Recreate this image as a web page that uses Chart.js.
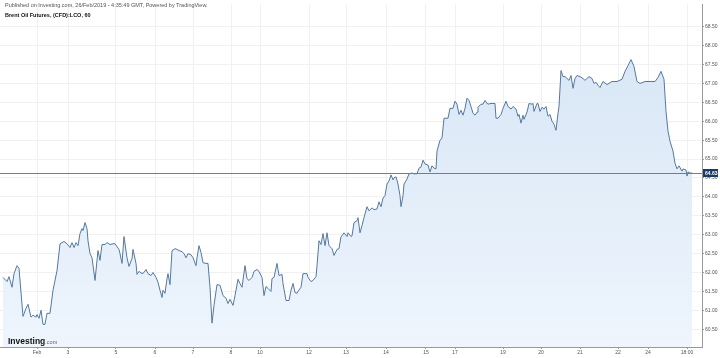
<!DOCTYPE html>
<html>
<head>
<meta charset="utf-8">
<script src="https://cdn.jsdelivr.net/npm/chart.js@4/dist/chart.umd.min.js"></script>
<style>
  html, body { margin: 0; padding: 0; background: #fff; }
  #wrap { position: relative; width: 720px; height: 358px; }
  .hdr { position: absolute; left: 5px; font-family: "Liberation Sans", Arial, sans-serif; font-size: 5.5px; white-space: nowrap; }
</style>
</head>
<body>
<div id="wrap">
  <canvas id="chart" width="720" height="358"></canvas>
  <div class="hdr" style="top:2px;color:#555;">Published on Investing.com, 26/Feb/2019 - 4:35:49 GMT, Powered by TradingView.</div>
  <div class="hdr" style="top:12px;color:#111;font-weight:bold;">Brent Oil Futures, (CFD):LCO, 60</div>
</div>
<script>
// time slots along the axis (one slot ~ a fraction of an hour) and LCO prices
const times = [3, 7, 9, 12, 14, 17, 19, 23, 26, 28, 31, 33, 36, 37, 39, 41, 43, 45, 47, 50,
  53, 57, 60, 64, 67, 70, 72, 74, 76, 78, 80, 82, 83, 85, 87, 88, 90, 92, 95, 98,
  100, 102, 105, 107, 110, 113, 115, 119, 120, 122, 124, 127, 129, 132, 133, 136, 137, 139, 142, 144,
  146, 148, 151, 153, 156, 158, 160, 162, 163, 165, 167, 168, 170, 172, 175, 177, 179, 182, 184, 186,
  188, 191, 193, 196, 197, 199, 201, 203, 206, 208, 210, 212, 214, 217, 220, 223, 226, 228, 230, 233,
  235, 238, 240, 242, 245, 247, 249, 252, 254, 257, 259, 262, 264, 266, 268, 271, 272, 274, 277, 279,
  282, 283, 286, 289, 291, 293, 295, 297, 298, 301, 303, 307, 308, 311, 313, 316, 317, 319, 321, 323,
  325, 327, 329, 332, 334, 337, 339, 341, 342, 344, 347, 348, 351, 352, 354, 357, 358, 360, 362, 364,
  367, 369, 372, 374, 377, 379, 381, 383, 385, 387, 389, 391, 393, 394, 396, 398, 400, 401, 403, 404,
  407, 409, 412, 414, 417, 419, 421, 423, 425, 428, 430, 432, 434, 436, 437, 440, 442, 444, 446, 448,
  450, 453, 455, 457, 459, 461, 463, 465, 467, 469, 471, 473, 475, 477, 478, 481, 483, 485, 487, 489,
  490, 493, 495, 496, 498, 501, 503, 506, 508, 511, 513, 516, 518, 519, 521, 523, 524, 527, 529, 532,
  533, 534, 537, 538, 540, 542, 544, 546, 548, 550, 552, 554, 556, 558, 559, 561, 563, 565, 567, 569,
  571, 573, 575, 577, 580, 583, 585, 587, 589, 592, 594, 596, 598, 600, 603, 607, 612, 617, 622, 625,
  628, 631, 634, 637, 640, 645, 650, 655, 658, 661, 664, 666, 668, 670, 673, 675, 677, 679, 682, 683,
  686, 687, 688, 690, 692];

const prices = [61.87, 61.76, 61.89, 61.61, 61.97, 62.18, 62.11, 60.84, 61.05, 61.16, 60.82, 60.87, 60.82, 60.89, 60.79, 61.00, 60.63, 60.63, 60.92, 60.92,
  61.53, 62.05, 62.76, 62.82, 62.76, 62.66, 62.79, 62.66, 62.79, 62.71, 63.03, 63.16, 63.11, 63.32, 63.16, 62.84, 62.50, 62.39, 61.79, 62.58,
  62.32, 62.74, 62.74, 62.79, 62.74, 62.76, 62.76, 62.61, 62.50, 62.24, 62.95, 62.39, 62.16, 62.37, 62.61, 62.24, 61.95, 62.03, 61.97, 62.00,
  62.08, 61.97, 61.92, 62.00, 61.87, 61.74, 61.53, 61.34, 61.53, 61.45, 61.84, 61.97, 61.68, 62.58, 62.63, 62.61, 62.58, 62.55, 62.50, 62.39,
  62.50, 62.47, 62.39, 62.18, 62.39, 62.71, 62.53, 62.26, 62.24, 62.24, 61.61, 60.66, 61.13, 61.68, 61.66, 61.39, 61.32, 61.18, 61.29, 61.13,
  61.39, 61.82, 61.71, 61.61, 62.18, 61.84, 61.79, 61.87, 62.03, 62.08, 62.03, 61.87, 61.39, 61.63, 61.58, 61.50, 61.84, 61.87, 62.24, 61.92,
  61.95, 61.71, 61.26, 61.26, 61.53, 61.71, 61.47, 61.45, 61.50, 61.61, 61.97, 61.97, 61.87, 61.76, 61.79, 61.89, 62.18, 62.84, 62.74, 63.03,
  62.71, 63.05, 62.71, 62.63, 62.45, 62.61, 62.63, 62.95, 62.97, 63.05, 62.95, 63.05, 62.95, 62.97, 63.32, 63.37, 63.45, 63.05, 63.24, 63.45,
  63.74, 63.63, 63.71, 63.66, 63.68, 63.87, 63.74, 63.97, 64.03, 64.34, 64.42, 64.58, 64.45, 64.50, 64.53, 64.34, 64.03, 63.74, 64.03, 64.34,
  64.47, 64.61, 64.63, 64.61, 64.61, 64.76, 64.79, 64.97, 64.87, 64.84, 64.66, 64.82, 64.76, 64.74, 65.21, 65.50, 65.55, 66.08, 66.08, 66.08,
  66.34, 66.34, 66.53, 66.45, 66.18, 66.29, 66.16, 66.34, 66.61, 66.55, 66.39, 66.21, 66.16, 66.24, 66.37, 66.45, 66.45, 66.55, 66.47, 66.45,
  66.47, 66.47, 66.47, 66.08, 66.08, 66.18, 66.34, 66.53, 66.39, 66.32, 66.39, 66.32, 66.13, 66.18, 65.95, 66.16, 66.05, 66.24, 66.47, 66.45,
  66.47, 66.26, 66.47, 66.47, 66.26, 66.37, 66.32, 66.39, 66.13, 66.18, 66.00, 65.92, 65.76, 66.21, 66.39, 67.34, 67.18, 67.18, 67.13, 67.08,
  67.21, 66.87, 67.13, 67.21, 67.18, 67.13, 67.08, 67.13, 67.18, 67.13, 67.00, 67.03, 66.95, 66.89, 67.05, 66.97, 67.05, 67.05, 67.11, 67.32,
  67.47, 67.63, 67.45, 67.05, 67.00, 67.05, 67.05, 67.05, 67.16, 67.32, 67.11, 66.26, 65.74, 65.47, 65.21, 64.89, 64.74, 64.82, 64.68, 64.74,
  64.71, 64.55, 64.66, 64.63, 64.63];

const tickTimes = [37, 68, 116, 155, 193, 231, 260, 309, 346, 386, 426, 455, 503, 541, 580, 618, 648, 687];
const tickLabels = ['Feb', '3', '5', '6', '7', '8', '10', '12', '13', '14', '15', '17', '19', '20', '21', '22', '24', '18:00'];
const lastPrice = 64.63;

const FONT = '"Liberation Sans", Arial, sans-serif';

const priceLinePlugin = {
  id: 'priceLine',
  afterDatasetsDraw(chart) {
    const { ctx, chartArea, scales } = chart;
    const y = Math.round(scales.y.getPixelForValue(lastPrice)) + 0.5;
    ctx.save();
    ctx.strokeStyle = '#5f82a8';
    ctx.lineWidth = 1;
    ctx.beginPath();
    ctx.moveTo(chartArea.left, y);
    ctx.lineTo(chartArea.right, y);
    ctx.stroke();
    ctx.restore();
  },
  afterDraw(chart) {
    const { ctx, chartArea, scales } = chart;
    const y = Math.round(scales.y.getPixelForValue(lastPrice));
    ctx.save();
    ctx.fillStyle = '#1b3a66';
    ctx.fillRect(chartArea.right + 1, y - 4, 15, 8);
    ctx.fillStyle = '#fff';
    ctx.font = 'bold 5px ' + FONT;
    ctx.textBaseline = 'middle';
    ctx.fillText(lastPrice.toFixed(2), chartArea.right + 3, y + 0.5);
    // Investing.com logo
    ctx.fillStyle = '#111';
    ctx.font = 'bold 8.5px ' + FONT;
    ctx.textBaseline = 'alphabetic';
    ctx.fillText('Investing', 8, chartArea.bottom - 3);
    const w = ctx.measureText('Investing').width;
    ctx.fillStyle = '#666';
    ctx.font = '5.5px ' + FONT;
    ctx.fillText('.com', 8 + w, chartArea.bottom - 3);
    ctx.restore();
  }
};

new Chart(document.getElementById('chart'), {
  type: 'line',
  data: {
    datasets: [{
      data: times.map((t, i) => ({ x: t, y: prices[i] })),
      borderColor: '#54789f',
      borderWidth: 1,
      pointRadius: 0,
      tension: 0,
      fill: 'start',
      backgroundColor: (c) => {
        const area = c.chart.chartArea;
        if (!area) return '#e3eefa';
        const g = c.chart.ctx.createLinearGradient(0, area.top, 0, area.bottom);
        g.addColorStop(0, '#d5e4f4');
        g.addColorStop(1, '#eef5fd');
        return g;
      }
    }]
  },
  options: {
    responsive: false,
    animation: false,
    layout: { padding: { top: 2, left: 0, right: 0, bottom: 0 } },
    plugins: { legend: { display: false }, tooltip: { enabled: false } },
    scales: {
      x: {
        type: 'linear',
        min: 0,
        max: 702,
        afterBuildTicks: (s) => { s.ticks = tickTimes.map(v => ({ value: v })); },
        afterFit: (s) => { s.height = 11; },
        ticks: {
          autoSkip: false,
          maxRotation: 0,
          padding: 1,
          color: '#555',
          font: { size: 5, family: FONT },
          callback: (v) => tickLabels[tickTimes.indexOf(v)]
        },
        grid: { color: '#f1f1f1', tickColor: '#999', tickLength: 2 },
        border: { color: '#999' }
      },
      y: {
        position: 'right',
        min: 60.03,
        max: 69.1,
        afterBuildTicks: (s) => {
          const t = [];
          for (let v = 60.5; v <= 68.5 + 1e-9; v += 0.5) t.push({ value: v });
          s.ticks = t;
        },
        afterFit: (s) => { s.width = 18; },
        ticks: {
          padding: 1,
          color: '#555',
          font: { size: 5, family: FONT },
          callback: (v) => v.toFixed(2)
        },
        grid: { color: '#f1f1f1', tickColor: '#999', tickLength: 2 },
        border: { color: '#999' }
      }
    }
  },
  plugins: [priceLinePlugin]
});
</script>
</body>
</html>
